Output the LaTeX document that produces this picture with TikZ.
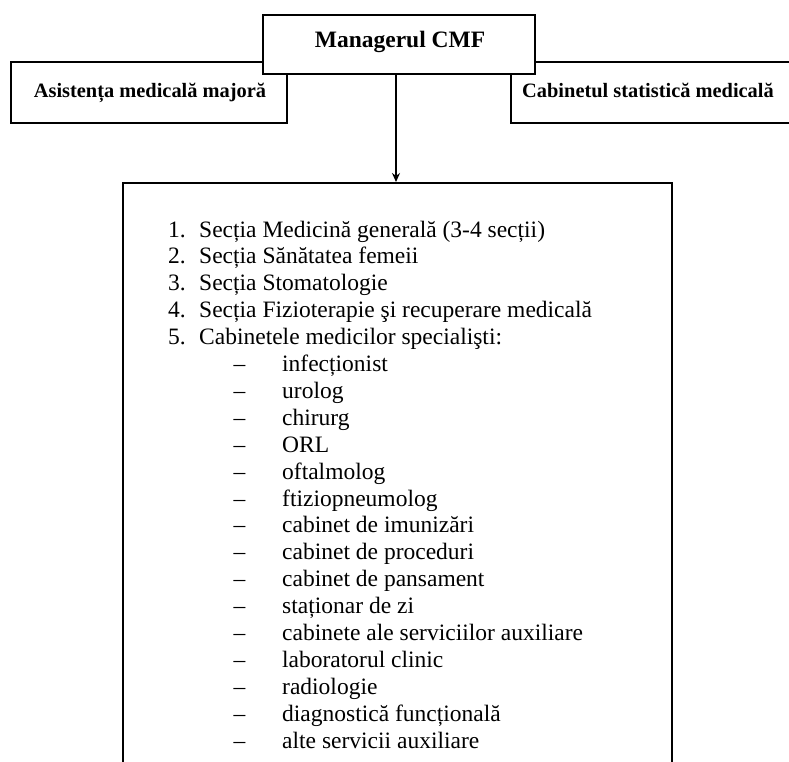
\documentclass[tikz,border=0pt]{standalone}
\usepackage{fontspec}
\setmainfont{Liberation Serif}
\usetikzlibrary{arrows.meta}
\begin{document}
\begin{tikzpicture}[x=1pt,y=-1pt,
  boxnode/.style={draw, line width=1.7pt, fill=white, inner sep=0pt},
  lbl/.style={font=\bfseries\fontsize{20.4}{24}\selectfont, inner sep=0pt, anchor=base},
  biglbl/.style={font=\bfseries\fontsize{23.5}{27}\selectfont, inner sep=0pt, anchor=base},
  numtxt/.style={font=\fontsize{23.5}{27}\selectfont, inner sep=0pt, anchor=base west},
  dashtxt/.style={font=\fontsize{23.5}{27}\selectfont, inner sep=0pt, anchor=base},
  conn/.style={line width=1.4pt, -{Stealth[length=9pt,width=8pt]}}]
\useasboundingbox (0,0) rectangle (789,762);
\clip (0,0) rectangle (789,762);
% side boxes (behind manager box)
\node[boxnode, minimum width=276pt, minimum height=61pt] (left) at (149,92.5) {};
\node[lbl] (lefttxt) at (150,98) {Asistența medicală majoră};
\node[boxnode, minimum width=289pt, minimum height=61pt] (right) at (655.5,92.5) {};
\node[lbl] (righttxt) at (648,98) {Cabinetul statistică medicală};
% manager box
\node[boxnode, minimum width=272pt, minimum height=59pt] (manager) at (399,44.5) {};
\node[biglbl] (managertxt) at (400,48) {Managerul CMF};
% main box
\node[boxnode, minimum width=549pt, minimum height=600pt, anchor=north] (main) at (397.5,182) {};
\draw[conn] (manager.south -| 396,0) -- (main.north -| 396,0);
% numbered items
\foreach \t [count=\i] in {Secția Medicină generală (3-4 secții),
  Secția Sănătatea femeii,
  Secția Stomatologie,
  Secția Fizioterapie şi recuperare medicală,
  Cabinetele medicilor specialişti:}{
  \node[numtxt] (num\i) at (168,{237+(\i-1)*26.9}) {\i.};
  \node[numtxt] (item\i) at (199,{237+(\i-1)*26.9}) {\t};
}
% dash items
\foreach \t [count=\i] in {infecționist, urolog, chirurg, ORL, oftalmolog,
  ftiziopneumolog, cabinet de imunizări, cabinet de proceduri,
  cabinet de pansament, staționar de zi, cabinete ale serviciilor auxiliare,
  laboratorul clinic, radiologie, diagnostică funcțională, alte servicii auxiliare}{
  \node[dashtxt] (dash\i) at (239.5,{237+(\i+4)*26.9}) {–};
  \node[numtxt] (sub\i) at (282,{237+(\i+4)*26.9}) {\t};
}
\end{tikzpicture}
\end{document}
